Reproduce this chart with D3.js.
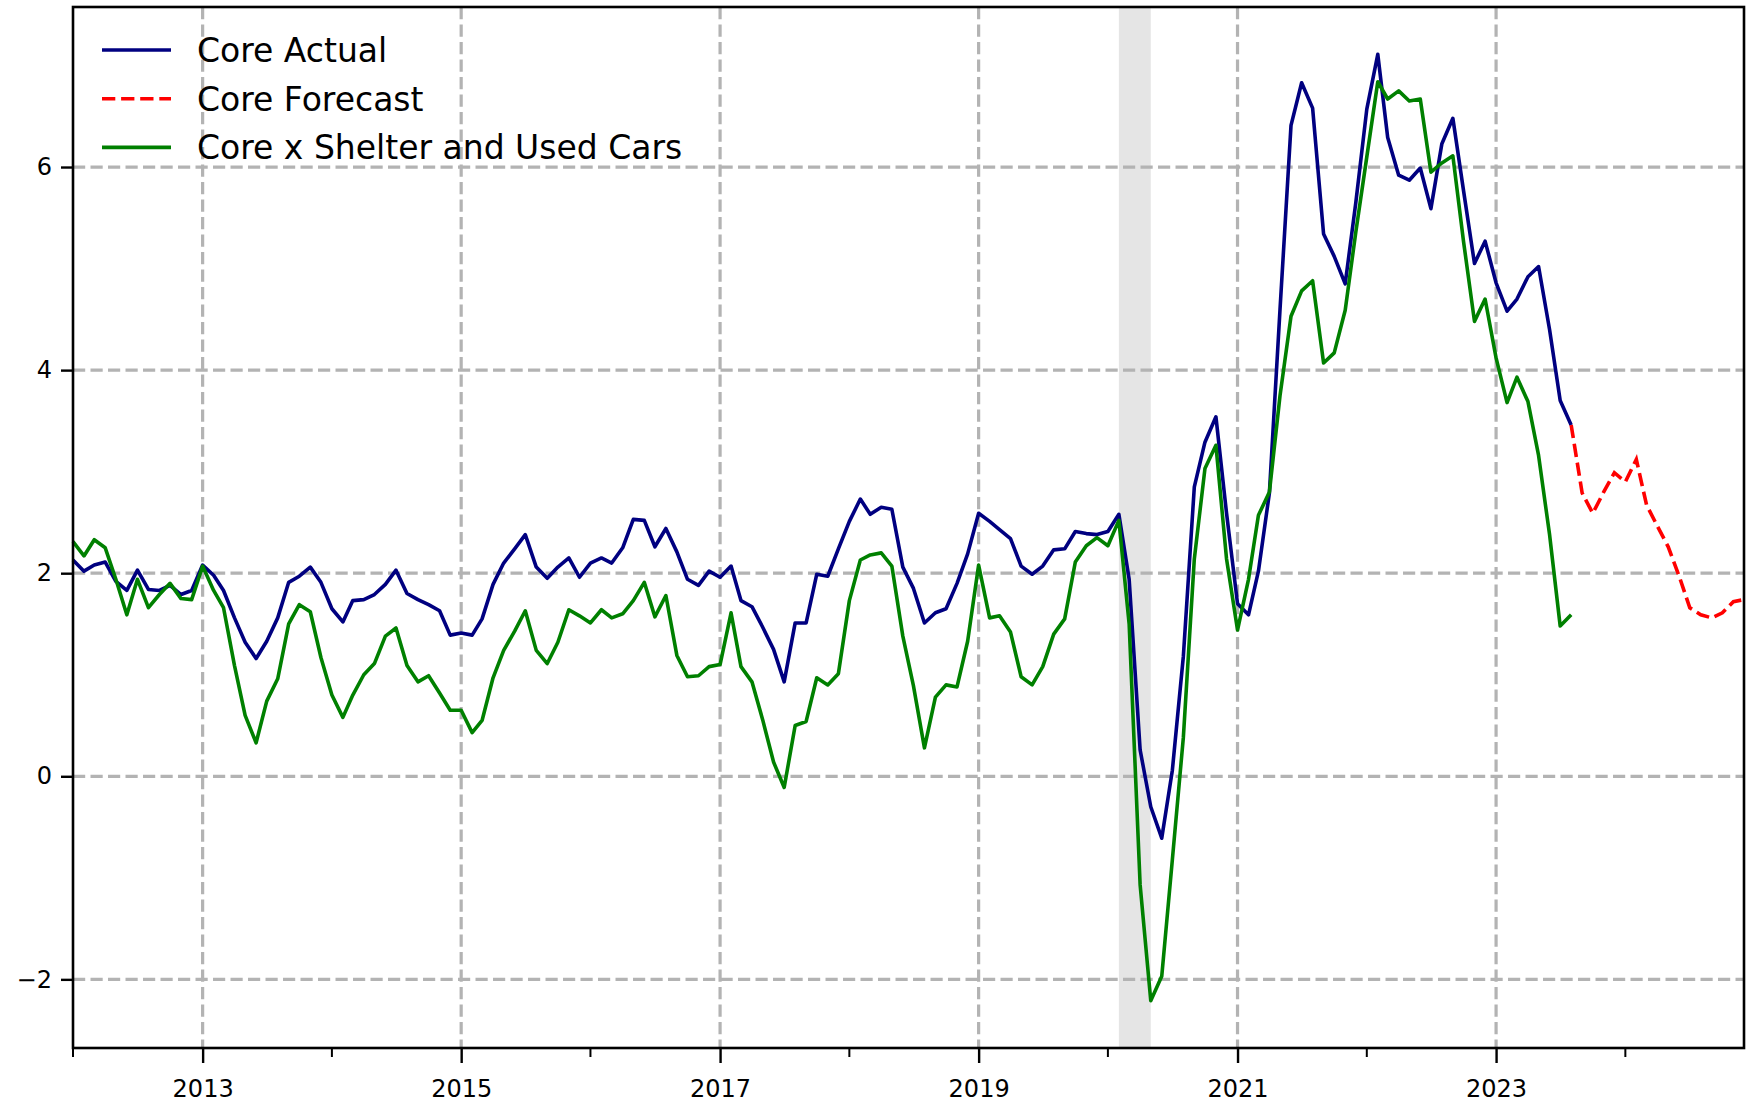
<!DOCTYPE html>
<html>
<head>
<meta charset="utf-8">
<script src="https://cdn.jsdelivr.net/npm/d3@7"></script>
<style>
  body { margin: 0; background: #fff; }
  svg { display: block; font-family: "DejaVu Sans", sans-serif; }
</style>
</head>
<body>
<div id="chart"></div>
<script>
// monthly series, first value is Jan 2012
const actualStart = "2012-01-01";
const coreActual = [
  2.13, 2.02, 2.08, 2.11, 1.92, 1.83, 2.03, 1.84, 1.83, 1.88, 1.79, 1.83,
  2.08, 1.98, 1.83, 1.56, 1.32, 1.16, 1.33, 1.56, 1.91, 1.97, 2.06, 1.91,
  1.65, 1.52, 1.73, 1.74, 1.79, 1.89, 2.03, 1.80, 1.74, 1.69, 1.63, 1.39,
  1.41, 1.39, 1.55, 1.89, 2.10, 2.24, 2.38, 2.06, 1.95, 2.06, 2.15, 1.96,
  2.10, 2.15, 2.10, 2.25, 2.53, 2.52, 2.26, 2.44, 2.21, 1.94, 1.88, 2.02,
  1.96, 2.07, 1.73, 1.67, 1.47, 1.25, 0.93, 1.51, 1.51, 1.99, 1.97, 2.24,
  2.51, 2.73, 2.58, 2.65, 2.63, 2.06, 1.85, 1.51, 1.61, 1.65, 1.90, 2.19,
  2.59, 2.51, 2.43, 2.34, 2.07, 1.99, 2.07, 2.23, 2.24, 2.41, 2.39, 2.38,
  2.41, 2.58, 1.94, 0.26, -0.30, -0.61, 0.06, 1.18, 2.85, 3.29, 3.54, 2.59,
  1.70, 1.59, 2.02, 2.79, 4.60, 6.41, 6.83, 6.58, 5.34, 5.12, 4.85, 5.65,
  6.57, 7.11, 6.29, 5.92, 5.87, 5.99, 5.59, 6.23, 6.48, 5.77, 5.05, 5.27,
  4.86, 4.58, 4.70, 4.92, 5.02, 4.40, 3.70, 3.46
];
const coreExShelterCars = [
  2.31, 2.17, 2.33, 2.25, 1.94, 1.59, 1.94, 1.66, 1.79, 1.90, 1.75, 1.74,
  2.07, 1.83, 1.66, 1.09, 0.60, 0.33, 0.74, 0.96, 1.50, 1.69, 1.62, 1.17,
  0.80, 0.58, 0.80, 1.00, 1.11, 1.38, 1.46, 1.09, 0.93, 0.99, 0.82, 0.65,
  0.65, 0.43, 0.55, 0.97, 1.24, 1.43, 1.63, 1.24, 1.11, 1.32, 1.64, 1.58,
  1.51, 1.64, 1.56, 1.60, 1.73, 1.91, 1.57, 1.78, 1.19, 0.98, 0.99, 1.08,
  1.10, 1.61, 1.08, 0.93, 0.56, 0.14, -0.11, 0.50, 0.54, 0.97, 0.90, 1.01,
  1.73, 2.13, 2.18, 2.20, 2.07, 1.38, 0.89, 0.28, 0.78, 0.90, 0.88, 1.33,
  2.08, 1.56, 1.58, 1.42, 0.98, 0.90, 1.08, 1.40, 1.55, 2.11, 2.27, 2.35,
  2.27, 2.52, 1.50, -1.07, -2.21, -1.97, -0.82, 0.38, 2.14, 3.03, 3.26, 2.14,
  1.44, 1.94, 2.57, 2.80, 3.75, 4.53, 4.78, 4.88, 4.07, 4.17, 4.59, 5.36,
  6.10, 6.84, 6.67, 6.75, 6.65, 6.67, 5.95, 6.04, 6.11, 5.27, 4.48, 4.70,
  4.12, 3.68, 3.93, 3.69, 3.16, 2.38, 1.48, 1.59
];
// forecast starts at the last actual month, Aug 2023
const forecastStart = "2023-08-01";
const coreForecast = [
  3.46, 2.79, 2.59, 2.80, 2.99, 2.90, 3.12, 2.67, 2.46, 2.26, 1.97, 1.66,
  1.59, 1.56, 1.61, 1.72, 1.74
];
const recession = ["2020-02-01", "2020-05-01"];
const yTicks = [-2, 0, 2, 4, 6];
const majorYears = [2013, 2015, 2017, 2019, 2021, 2023];
const minorYears = [2012, 2014, 2016, 2018, 2020, 2022, 2024];

const W = 1746, H = 1104;
const margin = {top: 7, right: 2, bottom: 56, left: 73};
const parse = d3.timeParse("%Y-%m-%d");

function toPoints(start, values) {
    let t0 = parse(start);
    return values.map((v, i) => ({date: d3.timeMonth.offset(t0, i), value: v}));
}

const actualPts = toPoints(actualStart, coreActual);
const exPts = toPoints(actualStart, coreExShelterCars);
const forecastPts = toPoints(forecastStart, coreForecast);
const allPts = actualPts.concat(exPts, forecastPts);

const x = d3.scaleTime()
    .domain(d3.extent(allPts, d => d.date))
    .range([margin.left, W - margin.right]);

// matplotlib style 5% padding on y
let yExt = d3.extent(allPts, d => d.value);
let pad = (yExt[1] - yExt[0]) * 0.05;
const y = d3.scaleLinear()
    .domain([yExt[0] - pad, yExt[1] + pad])
    .range([H - margin.bottom, margin.top]);

const svg = d3.select("#chart").append("svg")
    .attr("width", W)
    .attr("height", H);

const plot = svg.append("g");

// recession band
plot.append("rect")
    .attr("x", x(parse(recession[0])))
    .attr("y", margin.top)
    .attr("width", x(parse(recession[1])) - x(parse(recession[0])))
    .attr("height", H - margin.bottom - margin.top)
    .attr("fill", "#e5e5e5");

// grid
const gridColor = "#b3b3b3";
const gridDash = "12.2,5.3";
plot.append("g").selectAll("line")
    .data(majorYears)
    .join("line")
    .attr("x1", d => x(new Date(d, 0, 1)))
    .attr("x2", d => x(new Date(d, 0, 1)))
    .attr("y1", margin.top)
    .attr("y2", H - margin.bottom)
    .attr("stroke", gridColor)
    .attr("stroke-width", 3.2)
    .attr("stroke-dasharray", gridDash);
plot.append("g").selectAll("line")
    .data(yTicks)
    .join("line")
    .attr("x1", margin.left)
    .attr("x2", W - margin.right)
    .attr("y1", d => y(d))
    .attr("y2", d => y(d))
    .attr("stroke", gridColor)
    .attr("stroke-width", 3.2)
    .attr("stroke-dasharray", gridDash);

const line = d3.line()
    .x(d => x(d.date))
    .y(d => y(d.value));

plot.append("path")
    .datum(actualPts)
    .attr("d", line)
    .attr("fill", "none")
    .attr("stroke", "#000080")
    .attr("stroke-width", 3.6)
    .attr("stroke-linejoin", "round");

plot.append("path")
    .datum(forecastPts)
    .attr("d", line)
    .attr("fill", "none")
    .attr("stroke", "#ff0000")
    .attr("stroke-width", 3.6)
    .attr("stroke-dasharray", "13.3,5.8");

plot.append("path")
    .datum(exPts)
    .attr("d", line)
    .attr("fill", "none")
    .attr("stroke", "#008000")
    .attr("stroke-width", 3.6)
    .attr("stroke-linejoin", "round");

// axes
const xAxis = d3.axisBottom(x)
    .tickValues(majorYears.map(d => new Date(d, 0, 1)))
    .tickFormat(d3.timeFormat("%Y"))
    .tickSize(15)
    .tickPadding(17);
const gx = svg.append("g")
    .attr("transform", "translate(0," + (H - margin.bottom) + ")")
    .call(xAxis);
gx.append("g").selectAll("line")
    .data(minorYears)
    .join("line")
    .attr("x1", d => x(new Date(d, 0, 1)))
    .attr("x2", d => x(new Date(d, 0, 1)))
    .attr("y1", 0)
    .attr("y2", 9)
    .attr("stroke", "#000")
    .attr("stroke-width", 2);

const yAxis = d3.axisLeft(y)
    .tickValues(yTicks)
    .tickFormat(d => d < 0 ? "\u2212" + Math.abs(d) : d)
    .tickSize(12)
    .tickPadding(9);
const gy = svg.append("g")
    .attr("transform", "translate(" + margin.left + ",0)")
    .call(yAxis);

[gx, gy].forEach(g => {
    g.select(".domain").remove();
    g.selectAll(".tick line").attr("stroke", "#000").attr("stroke-width", 2.4);
    g.selectAll(".tick text")
        .attr("fill", "#000")
        .style("font-size", "24px")
        .style("font-family", "DejaVu Sans");
});

// frame
svg.append("rect")
    .attr("x", margin.left)
    .attr("y", margin.top)
    .attr("width", W - margin.right - margin.left)
    .attr("height", H - margin.bottom - margin.top)
    .attr("fill", "none")
    .attr("stroke", "#000")
    .attr("stroke-width", 2.6);

// legend, no frame
const legendItems = [
    {label: "Core Actual", color: "#000080", dash: null},
    {label: "Core Forecast", color: "#ff0000", dash: "13.3,5.8"},
    {label: "Core x Shelter and Used Cars", color: "#008000", dash: null}
];
const legend = svg.append("g");
legendItems.forEach((item, i) => {
    let ly = 50 + i * 48.7;
    legend.append("line")
        .attr("x1", 102)
        .attr("x2", 171)
        .attr("y1", ly)
        .attr("y2", ly)
        .attr("stroke", item.color)
        .attr("stroke-width", 3.6)
        .attr("stroke-dasharray", item.dash);
    legend.append("text")
        .attr("x", 197)
        .attr("y", ly)
        .attr("dy", "0.36em")
        .style("font-size", "33px")
        .text(item.label);
});
</script>
</body>
</html>
